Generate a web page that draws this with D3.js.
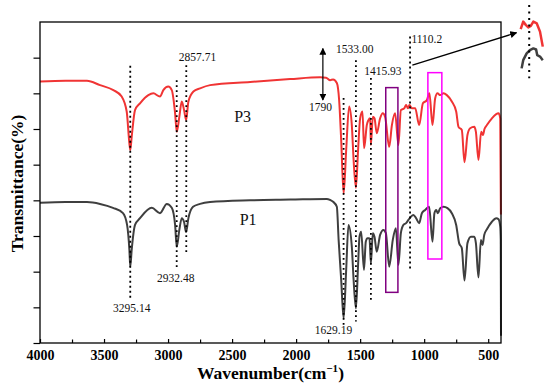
<!DOCTYPE html>
<html>
<head>
<meta charset="utf-8">
<script src="https://cdn.jsdelivr.net/npm/d3@7"></script>
<style>
  body { margin: 0; background: #fff; }
  svg { display: block; font-family: "Liberation Serif", "DejaVu Serif", serif; }
</style>
</head>
<body>
<div id="chart"></div>
<script>
// Data: [wavenumber, transmittance (arb. units)]
var p3 = [[4000,7.33],[3800,7.35],[3633,7.35],[3531,7.23],[3427,7.09],[3362,6.91],[3323,6.49],[3302,5.60],[3295,5.41],[3284,5.78],[3258,6.53],[3219,6.72],[3154,6.95],[3115,7.00],[3063,6.91],[3037,7.09],[2998,7.19],[2971,7.09],[2945,6.44],[2932,5.92],[2912,6.34],[2893,6.77],[2875,6.53],[2859,6.25],[2841,6.77],[2802,7.05],[2750,7.14],[2672,7.23],[2359,7.32],[2047,7.40],[1812,7.45],[1766,7.44],[1734,7.37],[1711,7.39],[1682,7.29],[1664,6.81],[1648,5.69],[1629,4.18],[1609,5.41],[1586,6.63],[1565,6.11],[1551,5.13],[1533,4.35],[1516,5.41],[1500,6.30],[1482,6.49],[1469,5.46],[1448,6.11],[1435,6.25],[1422,6.30],[1416,5.55],[1401,6.34],[1388,6.30],[1370,5.88],[1344,6.30],[1323,6.44],[1305,6.34],[1273,5.50],[1252,6.11],[1227,6.44],[1201,5.55],[1182,6.53],[1156,6.58],[1141,6.67],[1127,6.58],[1115,6.67],[1096,6.58],[1070,6.58],[1039,6.11],[1010,6.72],[979,6.81],[959,7.00],[935,6.11],[914,6.86],[896,7.00],[875,6.95],[849,7.00],[823,6.95],[784,6.77],[750,6.49],[732,6.06],[706,5.97],[685,5.07],[662,5.83],[641,6.02],[609,6.06],[596,5.92],[576,5.13],[555,5.92],[541,5.83],[529,6.00],[510,6.11],[471,6.30],[440,6.41],[419,6.44],[406,6.30],[401,3.60]];
var p1 = [[4000,3.93],[3800,3.95],[3633,3.95],[3531,3.90],[3430,3.79],[3352,3.64],[3320,3.31],[3302,2.61],[3295,2.14],[3284,2.61],[3258,3.31],[3219,3.50],[3127,3.79],[3063,3.64],[3010,3.90],[2971,3.79],[2945,3.31],[2932,2.70],[2912,3.17],[2893,3.50],[2875,3.39],[2859,3.11],[2841,3.50],[2805,3.82],[2750,3.90],[2672,3.95],[2359,4.00],[2047,4.02],[1760,4.04],[1734,4.01],[1711,3.96],[1682,3.82],[1668,2.89],[1648,1.77],[1629,0.69],[1609,2.05],[1591,3.31],[1565,2.70],[1551,1.77],[1533,0.97],[1516,2.19],[1505,2.98],[1492,3.12],[1470,2.05],[1456,2.84],[1443,2.94],[1427,2.94],[1416,2.23],[1401,3.08],[1388,2.98],[1370,2.56],[1344,3.03],[1318,3.17],[1299,3.08],[1273,2.14],[1245,2.89],[1221,3.22],[1201,2.19],[1182,3.08],[1162,3.31],[1141,3.36],[1123,3.45],[1104,3.54],[1084,3.59],[1063,3.50],[1039,3.36],[1018,3.64],[992,3.73],[961,3.82],[935,2.84],[920,3.64],[906,3.73],[893,3.64],[875,3.78],[849,3.82],[818,3.78],[784,3.64],[750,3.31],[727,2.80],[706,2.66],[685,1.75],[662,2.80],[635,2.98],[609,2.98],[596,2.80],[576,1.84],[557,2.89],[544,2.75],[531,3.03],[510,3.19],[471,3.40],[437,3.50],[419,3.47],[406,3.26],[402,2.89],[400,0.20]];

var xMajorTicks = [4000, 3500, 3000, 2500, 2000, 1500, 1000, 500];
var xMinorTicks = [3750, 3250, 2750, 2250, 1750, 1250, 750];
var yTicks = [0, 1, 2, 3, 4, 5, 6, 7, 8];

// peak markers: wavenumber, line from/to, label text and label position
var peaks = [
  { wn: 3295.14, from: 7.77, to: 1.26, text: "3295.14", lx: 3284, ly: 0.99 },
  { wn: 2932.48, from: 7.37, to: 2.09, text: "2932.48", lx: 2940, ly: 1.83 },
  { wn: 2857.71, from: 7.79, to: 2.47, text: "2857.71", lx: 2770, ly: 8.03 },
  { wn: 1629.19, from: 6.87, to: 0.42, text: "1629.19", lx: 1708, ly: 0.36 },
  { wn: 1533.00, from: 7.93, to: 0.60, text: "1533.00", lx: 1542, ly: 8.23 },
  { wn: 1415.93, from: 7.43, to: 1.16, text: "1415.93", lx: 1322, ly: 7.63 },
  { wn: 1110.2, from: 8.59, to: 2.05, text: "1110.2", lx: 979, ly: 8.51 }
];

// highlight boxes [wn left, wn right, low, high]
var boxes = [
  { x0: 1300, x1: 1205, y0: 1.42, y1: 7.16, color: "#800080" },
  { x0: 971, x1: 862, y0: 2.355, y1: 7.58, color: "#ff00ff" }
];

var seriesLabels = [
  { text: "P3", wn: 2418, t: 6.35 },
  { text: "P1", wn: 2375, t: 3.47 }
];

// magnified piece outside the frame (x in 0..1 of the inset width)
var insetRedX = [0.03, 0.14, 0.25, 0.36, 0.47, 0.58, 0.73, 0.87, 0.99];
var insetRedT = [8.80, 9.01, 8.92, 8.85, 8.89, 9.01, 8.96, 8.73, 8.31];
var insetGrayX = [0.07, 0.14, 0.29, 0.43, 0.58, 0.70, 0.75, 0.87, 0.99];
var insetGrayT = [7.70, 7.93, 8.12, 8.21, 8.26, 8.23, 8.07, 8.03, 7.93];

var red = "#f03434";
var gray = "#3f3f3f";

var width = 550, height = 384;
var margin = { top: 22, right: 49, bottom: 41, left: 40 };

var svg = d3.select("#chart").append("svg")
    .attr("width", width)
    .attr("height", height);

var x = d3.scaleLinear().domain([4000, 400]).range([margin.left, width - margin.right]);
var y = d3.scaleLinear().domain([0, 9]).range([height - margin.bottom, margin.top]);

var defs = svg.append("defs");
defs.append("marker")
    .attr("id", "head")
    .attr("viewBox", "0 0 10 10")
    .attr("refX", 9).attr("refY", 5)
    .attr("markerWidth", 7).attr("markerHeight", 7)
    .attr("markerUnits", "userSpaceOnUse")
    .attr("orient", "auto-start-reverse")
    .append("path").attr("d", "M0,0 L10,5 L0,10 z").attr("fill", "#000");

// Curves
var line = d3.line()
    .x(d => x(d[0]))
    .y(d => y(d[1]))
    .curve(d3.curveMonotoneX);

svg.append("path").datum(p3)
    .attr("d", line).attr("fill", "none")
    .attr("stroke", red).attr("stroke-width", 2).attr("stroke-linejoin", "round");

svg.append("path").datum(p1)
    .attr("d", line).attr("fill", "none")
    .attr("stroke", gray).attr("stroke-width", 2).attr("stroke-linejoin", "round");

// Frame
svg.append("rect")
    .attr("x", x(4000)).attr("y", y(9))
    .attr("width", x(400) - x(4000)).attr("height", y(0) - y(9))
    .attr("fill", "none").attr("stroke", "#000").attr("stroke-width", 1.3);

// Axes
svg.append("g")
    .attr("transform", "translate(0," + y(0) + ")")
    .call(d3.axisBottom(x).tickValues(xMajorTicks).tickSizeInner(-4).tickSizeOuter(0).tickPadding(7).tickFormat(d3.format("d")))
    .call(g => g.select(".domain").remove())
    .call(g => g.selectAll("line").attr("stroke-width", 1.2))
    .call(g => g.selectAll("text").attr("font-family", "Liberation Serif, serif").attr("font-size", 14).attr("font-weight", "bold").attr("fill", "#000"));

svg.append("g")
    .attr("transform", "translate(0," + y(0) + ")")
    .call(d3.axisBottom(x).tickValues(xMinorTicks).tickSizeInner(-3.5).tickSizeOuter(0).tickFormat(""))
    .call(g => g.select(".domain").remove())
    .call(g => g.selectAll("line").attr("stroke-width", 1.2));

svg.append("g")
    .attr("transform", "translate(" + x(4000) + ",0)")
    .call(d3.axisLeft(y).tickValues(yTicks).tickSizeInner(6.5).tickSizeOuter(0).tickFormat(""))
    .call(g => g.select(".domain").remove())
    .call(g => g.selectAll("line").attr("stroke-width", 1.2));

// Axis titles
var xt = svg.append("text")
    .attr("x", (x(4000) + x(400)) / 2)
    .attr("y", 379)
    .attr("text-anchor", "middle")
    .attr("font-size", 17.5).attr("font-weight", "bold")
    .text("Wavenumber(cm");
xt.append("tspan").attr("font-size", 11).attr("dy", -7).text("\u22121");
xt.append("tspan").attr("dy", 7).text(")");

svg.append("text")
    .attr("transform", "translate(22.5," + ((y(0) + y(9)) / 2 + 1) + ") rotate(-90)")
    .attr("text-anchor", "middle")
    .attr("font-size", 17.5).attr("font-weight", "bold")
    .text("Transmittance(%)");

// Highlight boxes
svg.selectAll(".box").data(boxes).enter().append("rect")
    .attr("class", "box")
    .attr("x", d => x(d.x0)).attr("y", d => y(d.y1))
    .attr("width", d => x(d.x1) - x(d.x0)).attr("height", d => y(d.y0) - y(d.y1))
    .attr("fill", "none").attr("stroke", d => d.color).attr("stroke-width", 1.5);

// Peak lines and labels
svg.selectAll(".peak").data(peaks).enter().append("line")
    .attr("class", "peak")
    .attr("x1", d => x(d.wn)).attr("x2", d => x(d.wn))
    .attr("y1", d => y(d.from)).attr("y2", d => y(d.to))
    .attr("stroke", "#000").attr("stroke-width", 1.8)
    .attr("stroke-dasharray", "1.8,3.2");

svg.selectAll(".peakLabel").data(peaks).enter().append("text")
    .attr("class", "peakLabel")
    .attr("x", d => x(d.lx)).attr("y", d => y(d.ly))
    .attr("text-anchor", "middle").attr("dominant-baseline", "central")
    .attr("font-size", 11.5).attr("fill", "#111")
    .text(d => d.text);

// 1790 double arrow
svg.append("line")
    .attr("x1", x(1791)).attr("x2", x(1791))
    .attr("y1", y(8.26)).attr("y2", y(6.81))
    .attr("stroke", "#000").attr("stroke-width", 1.2)
    .attr("marker-start", "url(#head)").attr("marker-end", "url(#head)");

svg.append("text")
    .attr("x", x(1809)).attr("y", y(6.61))
    .attr("text-anchor", "middle").attr("dominant-baseline", "central")
    .attr("font-size", 11.5).attr("fill", "#111")
    .text("1790");

// Series labels
svg.selectAll(".series").data(seriesLabels).enter().append("text")
    .attr("x", d => x(d.wn)).attr("y", d => y(d.t))
    .attr("text-anchor", "middle").attr("dominant-baseline", "central")
    .attr("font-size", 16).attr("fill", "#111")
    .text(d => d.text);

// Inset: magnified piece right of the frame
var ix = d3.scaleLinear().domain([0, 1]).range([520, 543]);
var insetLine = d3.line().x(d => ix(d[0])).y(d => y(d[1])).curve(d3.curveLinear);

svg.append("path").datum(d3.zip(insetRedX, insetRedT))
    .attr("d", insetLine).attr("fill", "none")
    .attr("stroke", red).attr("stroke-width", 2.5).attr("stroke-linejoin", "round");
svg.append("path").datum(d3.zip(insetGrayX, insetGrayT))
    .attr("d", insetLine).attr("fill", "none")
    .attr("stroke", gray).attr("stroke-width", 2.5).attr("stroke-linejoin", "round");

svg.append("line")
    .attr("x1", ix(0.40)).attr("x2", ix(0.40))
    .attr("y1", y(9.48)).attr("y2", y(7.42))
    .attr("stroke", "#000").attr("stroke-width", 2)
    .attr("stroke-dasharray", "2,4.5");

// Arrow from the 1110 line to the inset
svg.append("line")
    .attr("x1", x(1092)).attr("y1", y(7.79))
    .attr("x2", ix(-0.15)).attr("y2", y(8.70))
    .attr("stroke", "#000").attr("stroke-width", 1.3)
    .attr("marker-end", "url(#head)");
</script>
</body>
</html>
